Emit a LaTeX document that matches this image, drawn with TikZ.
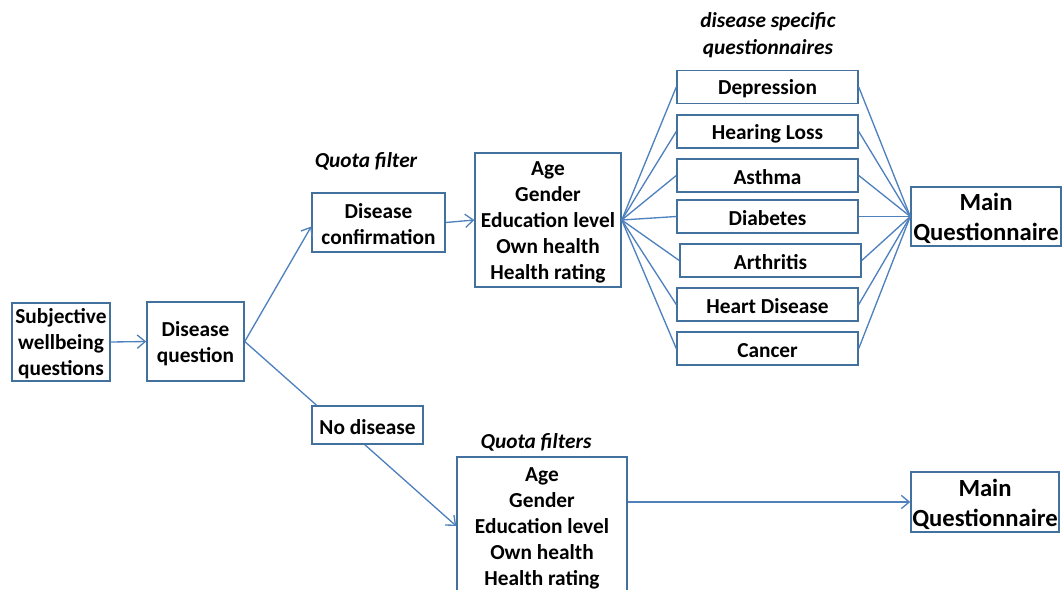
\documentclass[tikz,border=0pt]{standalone}
\usepackage{fontspec}
\setmainfont{Carlito}
\usetikzlibrary{arrows.meta}
\definecolor{lineblue}{HTML}{4F81BD}
\definecolor{boxblue}{HTML}{41719C}
\begin{document}
\begin{tikzpicture}[x=0.75pt,y=-0.75pt,
  txt/.style={align=center, inner sep=0pt, yshift=-1.5pt,
    font=\bfseries\fontsize{16}{19.5}\selectfont},
  bigtxt/.style={txt, font=\bfseries\fontsize{18.5}{22.5}\selectfont},
  box/.style={draw=boxblue, line width=1.1pt, fill=white, inner sep=0pt,
    label={[txt]center:#1}},
  big/.style={draw=boxblue, line width=1.1pt, fill=white, inner sep=0pt,
    label={[bigtxt]center:#1}},
  lbl/.style={align=center, yshift=-1.5pt, font=\bfseries\itshape\fontsize{16}{20.25}\selectfont, inner sep=0pt},
  con/.style={draw=lineblue, line width=1pt},
  arr/.style={con, -{Straight Barb[length=6pt,width=10pt]}}
]
\useasboundingbox (0,0) rectangle (1062,589);

\node[box={Subjective\\wellbeing\\questions}, minimum width=73.5pt, minimum height=58.5pt] (swb) at (61,342) {};
\node[box={Disease\\question}, minimum width=72.75pt, minimum height=59.25pt] (dq) at (195.5,341.5) {};
\node[box={Disease\\confirmation}, minimum width=99.75pt, minimum height=44.25pt] (dc) at (378.5,222.5) {};
\node[box={Age\\Gender\\Education level\\Own health\\Health rating}, minimum width=109.5pt, minimum height=100.5pt] (age1) at (548,220) {};

\node[box={Depression}, minimum width=135.75pt, minimum height=24.5pt] (dep) at (767.5,87) {};
\node[box={Hearing Loss}, minimum width=135.75pt, minimum height=24.5pt] (hear) at (767.5,131.5) {};
\node[box={Asthma}, minimum width=135.75pt, minimum height=24.5pt] (asth) at (767.5,175.5) {};
\node[box={Diabetes}, minimum width=135.75pt, minimum height=24.5pt] (diab) at (767.5,216.5) {};
\node[box={Arthritis}, minimum width=135.75pt, minimum height=24.5pt] (arth) at (770.5,260.5) {};
\node[box={Heart Disease}, minimum width=135.75pt, minimum height=24.5pt] (heart) at (767.5,304.5) {};
\node[box={Cancer}, minimum width=135.75pt, minimum height=24.5pt] (canc) at (767.5,348.5) {};

\node[big={Main\\Questionnaire}, minimum width=112.5pt, minimum height=44.25pt] (main1) at (986,216.5) {};

\node[box={No disease}, minimum width=83.25pt, minimum height=28.5pt] (nod) at (367.5,425) {};
\begin{scope}
\clip (0,0) rectangle (1062,589);
\node[box={Age\\Gender\\Education level\\Own health\\Health rating}, minimum width=127.5pt, minimum height=103.5pt] (age2) at (542,526) {};
\end{scope}
\node[big={Main\\Questionnaire}, minimum width=111pt, minimum height=45pt] (main2) at (985,502) {};

\node[lbl] (qf) at (366,159) {Quota filter};
\node[lbl] (qfs) at (536,440) {Quota filters};
\node[lbl] (dsq) at (768,33.5) {disease specific\\questionnaires};

\draw[arr] (swb.east) -- (dq.west);
\draw[arr] (dq.east) -- ([yshift=-3pt]dc.west);
\draw[con] (dq.east) -- ([xshift=4pt]nod.north west);
\draw[arr] (dc.east) -- (age1.west);
\draw[arr] ([xshift=-2pt]nod.south) -- (age2.west);
\draw[arr] (age2.east |- main2.west) -- (main2.west);

\foreach \n in {dep,hear,asth,diab,arth,heart,canc}{
  \draw[con] (age1.east) -- (\n.west);
  \draw[con] (\n.east) -- (main1.west);
}
\end{tikzpicture}
\end{document}
